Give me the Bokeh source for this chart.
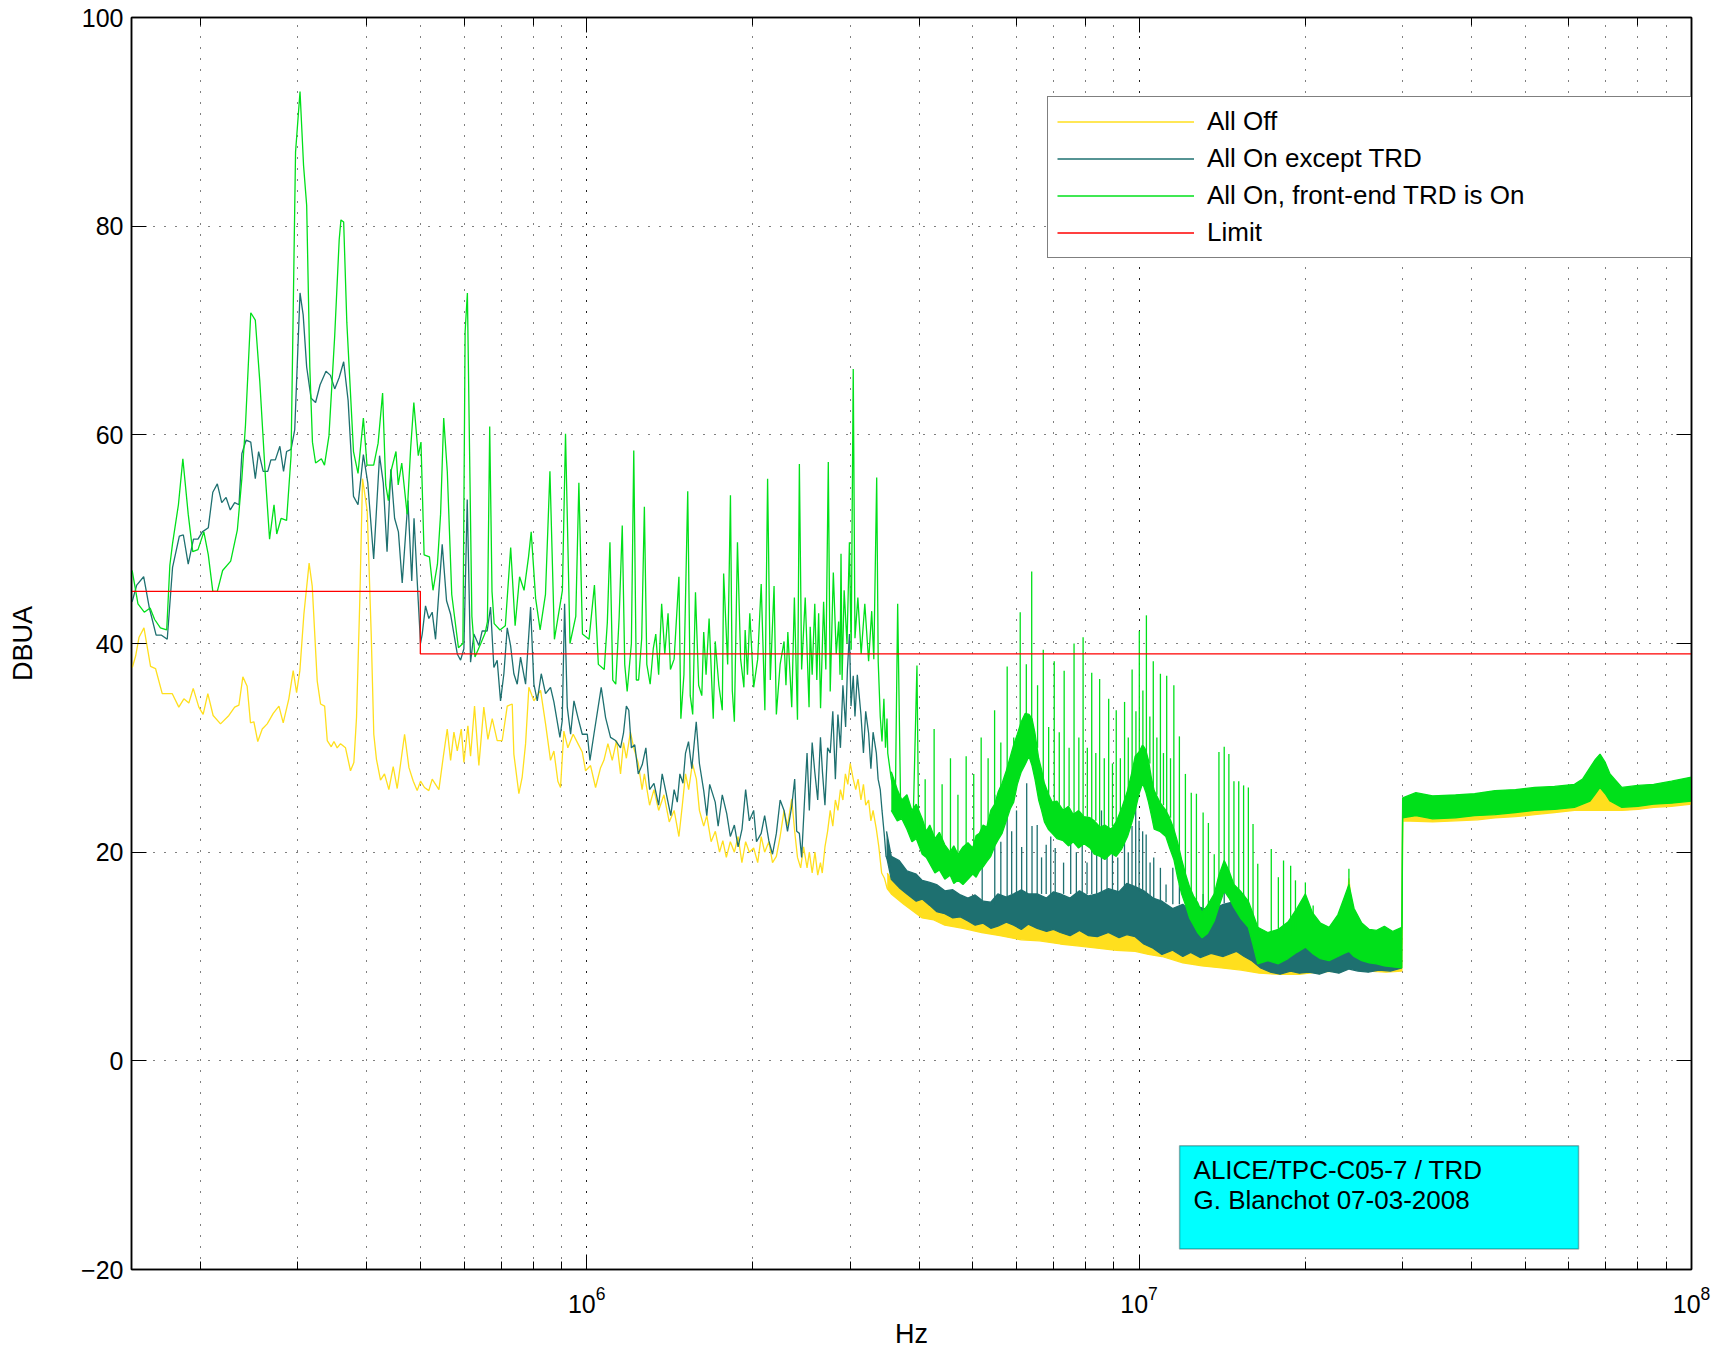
from bokeh.plotting import figure
from bokeh.models import (Range1d, FixedTicker, LogAxis, LinearAxis, LogTicker, Legend,
                          LegendItem, BoxAnnotation, Label)
from bokeh.embed import file_html
from bokeh.resources import INLINE

FONT = "Liberation Sans"

# ---------------- data (Hz, dBuA) ----------------
y_ticks = [-20, 0, 20, 40, 60, 80, 100]

limit_f = [1.5e5, 5e5, 5e5, 1e8]
limit_v = [45, 45, 39, 39]

# "All Off" trace
off_f = [150.5e3, 152.6e3, 154.8e3, 158.0e3, 162.4e3, 165.8e3, 170.5e3, 177.7e3, 182.7e3, 186.6e3,
         190.5e3, 194.0e3, 198.6e3, 202.2e3, 206.2e3, 210.8e3, 217.4e3, 225.1e3, 230.6e3, 234.7e3,
         238.6e3, 242.9e3, 246.3e3, 249.8e3, 253.9e3, 258.7e3, 264.1e3, 270.8e3, 277.3e3, 282.3e3,
         289.0e3, 294.3e3, 298.5e3, 302.6e3, 307.7e3, 314.5e3, 318.6e3, 325.3e3, 329.9e3, 335.5e3,
         339.2e3, 344.9e3, 348.8e3, 353.5e3, 358.5e3, 366.0e3, 373.7e3, 379.0e3, 383.2e3, 388.6e3,
         392.9e3, 400.7e3, 407.4e3, 411.8e3, 416.4e3, 423.5e3, 430.6e3, 438.5e3, 446.5e3, 454.0e3,
         468.2e3, 476.8e3, 485.5e3, 493.4e3, 500.4e3, 508.7e3, 518.0e3, 525.3e3, 532.7e3, 540.2e3,
         550.0e3, 559.3e3, 567.2e3, 575.1e3, 583.2e3, 593.0e3, 599.5e3, 609.6e3, 616.4e3, 626.7e3,
         638.1e3, 651.4e3, 662.6e3, 674.7e3, 688.7e3, 703.3e3, 718.2e3, 733.3e3, 738.3e3, 753.9e3,
         764.4e3, 775.3e3, 786.0e3, 802.6e3, 825.3e3, 842.6e3, 860.2e3, 872.4e3, 886.9e3, 896.8e3,
         909.4e3, 924.6e3, 945.4e3, 964.4e3, 981.9e3, 995.5e3, 1016.4e3, 1037.9e3, 1059.7e3, 1074.6e3,
         1092.7e3, 1112.6e3, 1132.8e3, 1151.7e3,
         1.166e6, 1.18e6, 1.20e6, 1.217e6, 1.24e6, 1.26e6, 1.272e6, 1.30e6, 1.324e6, 1.35e6,
         1.38e6, 1.411e6, 1.44e6, 1.469e6, 1.49e6, 1.51e6, 1.53e6, 1.554e6, 1.58e6, 1.60e6,
         1.629e6, 1.65e6, 1.68e6, 1.71e6, 1.74e6, 1.764e6, 1.79e6, 1.82e6, 1.851e6, 1.88e6,
         1.91e6, 1.94e6, 1.97e6, 2.006e6, 2.04e6, 2.07e6, 2.10e6, 2.137e6, 2.17e6, 2.205e6,
         2.24e6, 2.277e6, 2.31e6, 2.351e6, 2.38e6, 2.408e6, 2.44e6, 2.47e6, 2.506e6, 2.53e6,
         2.56e6, 2.59e6, 2.62e6, 2.65e6, 2.67e6, 2.70e6, 2.73e6, 2.76e6, 2.79e6, 2.82e6,
         2.85e6, 2.88e6, 2.91e6, 2.94e6, 2.97e6, 3.00e6, 3.038e6, 3.07e6, 3.10e6, 3.137e6,
         3.17e6, 3.20e6, 3.239e6, 3.27e6, 3.30e6, 3.345e6, 3.38e6, 3.42e6, 3.46e6, 3.50e6, 3.56e6]
off_v = [37.7, 38.8, 40.6, 41.5, 37.8, 37.6, 35.2, 35.2, 33.9, 34.7,
         34.3, 35.7, 33.9, 33.2, 35.2, 33.1, 32.3, 33.1, 33.9, 34.1,
         36.8, 35.9, 32.4, 32.5, 30.6, 31.8, 32.3, 33.3, 34.0, 32.4,
         34.7, 37.4, 35.3, 37.4, 42.8, 47.7, 45.5, 36.4, 34.2, 34.0,
         30.7, 30.1, 30.6, 30.0, 30.4, 30.0, 27.8, 28.6, 32.9, 44.4,
         55.8, 52.7, 40.9, 31.3, 28.9, 26.9, 27.5, 26.0, 28.2, 26.1,
         31.3, 28.1, 26.8, 25.9, 26.8, 26.2, 25.9, 27.0, 26.5, 26.0,
         29.1, 31.8, 28.8, 31.5, 29.7, 31.8, 28.6, 32.1, 29.2, 34.0,
         28.3, 33.9, 30.8, 32.8, 30.7, 30.7, 34.0, 34.2, 29.4, 25.6,
         27.2, 30.4, 35.8, 34.5, 35.5, 32.3, 28.8, 29.7, 26.8, 26.2,
         31.6, 30.0, 31.3, 30.4, 29.6, 27.8, 28.3, 26.2, 28.1, 28.8,
         30.4, 28.8, 30.7, 27.5,
         30.5, 29.0, 31.5, 30.0, 28.5, 26.0, 27.5, 24.5, 26.0, 24.0,
         25.5, 22.9, 24.0, 21.5, 24.5, 27.5, 26.0, 28.5, 27.0, 24.0,
         22.5, 23.5, 21.0, 22.0, 20.0, 21.1, 19.5, 21.0, 20.0, 21.5,
         19.0, 21.0, 20.0, 20.4, 19.0, 21.5, 20.0, 21.0, 19.0, 19.6,
         21.5, 24.0, 22.5, 25.1, 22.0, 19.5, 18.5, 20.5, 18.5, 20.0,
         18.0, 20.0, 17.8, 19.0, 18.0, 20.5, 22.0, 24.0, 22.5, 25.0,
         24.0, 26.0, 25.0, 27.5, 26.5, 28.5, 27.0, 26.0, 27.0, 25.0,
         26.5, 24.5, 25.0, 23.0, 24.0, 22.2, 20.5, 18.0, 17.5, 16.5, 16.7]

off_band_f = [3.50e6, 3.56e6, 3.75e6, 4.05e6, 4.25e6, 4.45e6, 4.80e6, 5.19e6, 5.60e6, 6.12e6,
              6.60e6, 7.20e6, 7.80e6, 8.40e6, 9.10e6, 9.84e6, 10.4e6, 11.0e6, 12.0e6, 13.0e6,
              14.1e6, 15.3e6, 16.5e6, 18.0e6, 19.5e6, 21.0e6, 23.0e6, 23.5e6, 23.98e6, 24.5e6,
              26.0e6, 28.0e6, 29.9e6, 30.0e6, 34.0e6, 37.4e6, 41.0e6, 44.1e6, 48.0e6, 52.0e6,
              56.5e6, 61.4e6, 65.5e6, 70.0e6, 74.8e6, 80.0e6, 85.4e6, 92.0e6, 100e6]
off_band_lo = [16.5, 16.0, 15.0, 13.7, 13.5, 13.0, 12.7, 12.3, 12.0, 11.6,
               11.5, 11.2, 11.0, 10.8, 10.6, 10.5, 10.2, 10.0, 9.4, 9.1,
               8.9, 8.7, 8.4, 8.3, 8.3, 8.5, 8.6, 9.0, 10.5, 9.0,
               8.6, 8.5, 8.6, 23.0, 22.9, 23.0, 23.1, 23.3, 23.4, 23.6,
               23.8, 24.0, 24.0, 24.0, 24.0, 24.1, 24.3, 24.4, 24.6]
off_band_hi = [18.0, 17.4, 16.8, 15.6, 15.1, 14.9, 14.6, 14.1, 14.3, 13.7,
               13.9, 13.4, 13.4, 13.0, 13.3, 13.0, 12.4, 12.0, 11.9, 11.4,
               11.5, 11.0, 10.6, 10.2, 10.8, 10.4, 10.9, 12.0, 17.5, 12.5,
               11.0, 11.4, 11.2, 24.3, 24.5, 24.6, 24.7, 24.9, 25.0, 25.2,
               25.4, 25.6, 26.0, 26.2, 25.6, 25.8, 25.9, 26.2, 26.5]

# "All On except TRD" trace
ex_f = [150.4e3, 153.3e3, 157.8e3, 161.6e3, 166.2e3, 170.0e3, 174.1e3, 178.0e3, 183.1e3, 186.2e3,
        190.0e3, 194.2e3, 197.9e3, 201.5e3, 206.6e3, 210.5e3, 214.5e3, 218.5e3, 222.5e3, 226.4e3,
        230.6e3, 234.8e3, 237.6e3, 241.9e3, 246.6e3, 251.3e3, 254.8e3, 259.7e3, 264.7e3, 268.2e3,
        273.2e3, 278.4e3, 282.7e3, 286.3e3, 291.7e3, 296.2e3, 302.8e3, 306.8e3, 311.3e3, 317.1e3,
        323.1e3, 329.2e3, 337.4e3, 343.8e3, 349.9e3, 356.5e3, 363.2e3, 370.0e3, 378.4e3, 385.6e3,
        394.3e3, 401.6e3, 411.6e3, 421.8e3, 428.4e3, 435.2e3, 442.1e3, 449.1e3, 456.3e3, 463.6e3,
        474.8e3, 482.4e3, 487.0e3, 495.6e3, 500.4e3, 503.9e3, 510.9e3, 518.0e3, 525.3e3, 532.7e3,
        547.7e3, 557.7e3, 567.2e3, 583.2e3, 591.3e3, 599.5e3, 607.9e3, 616.4e3, 625.0e3, 638.1e3,
        647.0e3, 660.6e3, 669.9e3, 679.3e3, 688.7e3, 698.4e3, 708.2e3, 718.2e3, 728.3e3, 738.3e3,
        748.7e3, 759.2e3, 775.3e3, 791.6e3, 802.6e3, 814.0e3, 827.6e3, 842.6e3, 860.2e3, 872.4e3,
        894.6e3, 903.2e3, 912.2e3, 922.4e3, 935.3e3, 948.5e3, 964.4e3, 981.9e3, 1002.7e3, 1013.9e3,
        1030.8e3, 1062.6e3, 1082.1e3, 1104.7e3, 1128.1e3, 1151.7e3,
        1.166e6, 1.18e6, 1.192e6, 1.205e6, 1.222e6, 1.24e6, 1.261e6, 1.28e6, 1.30e6, 1.324e6,
        1.35e6, 1.37e6, 1.39e6, 1.42e6, 1.44e6, 1.459e6, 1.475e6, 1.494e6, 1.51e6, 1.529e6,
        1.55e6, 1.579e6, 1.60e6, 1.629e6, 1.65e6, 1.67e6, 1.709e6, 1.73e6, 1.76e6, 1.793e6,
        1.82e6, 1.851e6, 1.88e6, 1.911e6, 1.94e6, 1.97e6, 2.006e6, 2.03e6, 2.07e6, 2.10e6,
        2.137e6, 2.17e6, 2.205e6, 2.24e6, 2.277e6, 2.31e6, 2.351e6, 2.38e6, 2.40e6, 2.427e6,
        2.45e6, 2.48e6, 2.506e6, 2.53e6, 2.56e6, 2.588e6, 2.62e6, 2.65e6, 2.672e6, 2.70e6,
        2.73e6, 2.76e6, 2.79e6, 2.82e6, 2.85e6, 2.88e6, 2.91e6, 2.943e6, 2.965e6, 2.99e6,
        3.01e6, 3.038e6, 3.06e6, 3.09e6, 3.137e6, 3.17e6, 3.20e6, 3.239e6, 3.27e6, 3.30e6,
        3.345e6, 3.37e6, 3.40e6, 3.425e6, 3.46e6, 3.483e6, 3.53e6, 3.564e6]
ex_v = [44.0, 45.6, 46.4, 43.4, 40.8, 40.8, 40.4, 47.3, 50.3, 50.4,
        47.6, 50.0, 50.0, 50.7, 51.1, 54.5, 55.3, 53.5, 54.0, 52.8,
        53.5, 53.3, 58.2, 59.5, 59.3, 55.8, 58.4, 56.5, 56.5, 57.6,
        57.6, 58.9, 56.5, 58.4, 58.6, 60.5, 73.6, 71.5, 66.5, 63.5,
        63.1, 64.8, 66.1, 65.7, 64.4, 65.5, 67.0, 63.3, 54.1, 53.3,
        58.1, 55.4, 48.1, 58.0, 55.4, 48.8, 56.7, 52.0, 50.7, 45.8,
        53.7, 46.0, 52.0, 44.1, 40.0, 40.9, 43.6, 42.4, 43.0, 40.4,
        49.5, 44.1, 42.8, 39.0, 38.4, 39.5, 53.8, 38.2, 40.9, 39.8,
        41.2, 41.2, 43.5, 37.7, 38.4, 34.5, 37.1, 41.5, 39.8, 37.1,
        36.1, 38.7, 36.1, 43.5, 36.1, 34.5, 37.1, 35.2, 35.8, 34.4,
        31.0, 32.6, 43.8, 33.9, 31.3, 34.5, 32.9, 31.3, 31.3, 28.8,
        31.3, 35.8, 32.9, 31.0, 30.7, 30.0,
        31.4, 34.0, 33.6, 30.0, 30.3, 27.5, 28.4, 30.0, 26.0, 26.6,
        24.5, 27.5, 25.9, 23.5, 26.0, 24.8, 27.5, 26.6, 29.5, 30.6,
        28.0, 32.5, 28.5, 25.9, 23.5, 26.5, 24.8, 22.5, 25.5, 23.7,
        21.5, 22.6, 20.5, 22.2, 26.0, 23.0, 24.0, 21.0, 21.8, 23.5,
        21.1, 19.8, 21.8, 25.0, 24.0, 22.0, 24.4, 27.0, 22.0, 21.8,
        19.5, 25.0, 29.5, 24.0, 30.5, 27.7, 25.0, 31.0, 27.7, 24.5,
        30.0, 29.5, 33.5, 27.0, 33.2, 30.0, 36.0, 32.0, 37.5, 40.9,
        34.0, 36.9, 33.0, 37.0, 33.2, 29.5, 33.5, 31.4, 28.0, 31.5,
        29.5, 27.0, 26.0, 24.0, 21.5, 19.6, 19.0, 18.5]

ex_band_f = [3.49e6, 3.56e6, 3.68e6, 3.80e6, 3.95e6, 4.05e6, 4.18e6, 4.30e6, 4.45e6, 4.60e6,
             4.75e6, 4.90e6, 5.05e6, 5.22e6, 5.39e6, 5.55e6, 5.75e6, 5.93e6, 6.12e6, 6.30e6,
             6.54e6, 6.80e6, 7.00e6, 7.20e6, 7.50e6, 7.80e6, 8.10e6, 8.40e6, 8.80e6, 9.20e6,
             9.50e6, 9.84e6, 10.2e6, 10.6e6, 11.0e6, 11.5e6, 12.0e6, 12.4e6, 12.9e6, 13.5e6,
             14.2e6, 15.0e6, 15.5e6, 16.0e6, 16.6e6, 17.3e6, 18.0e6, 18.8e6, 19.5e6, 20.3e6,
             21.2e6, 22.0e6, 23.0e6, 24.0e6, 24.9e6, 26.0e6, 27.2e6, 28.5e6, 29.9e6]
ex_band_lo = [19.6, 17.4, 16.6, 16.0, 15.3, 15.5, 14.9, 14.3, 14.1, 13.7,
              13.8, 13.4, 13.0, 13.2, 12.7, 12.9, 13.3, 13.0, 12.6, 13.1,
              12.7, 12.4, 12.6, 12.3, 12.0, 12.5, 12.0, 11.9, 12.3, 11.8,
              12.1, 11.9, 11.2, 10.8, 10.2, 10.6, 10.0, 10.4, 9.9, 10.3,
              10.0, 10.5, 10.0, 9.6, 8.9, 8.5, 8.3, 8.6, 8.4, 8.5,
              8.3, 8.6, 8.4, 8.8, 8.6, 8.5, 8.7, 8.6, 8.9]
ex_band_hi = [22.0, 19.6, 19.2, 18.2, 17.9, 17.3, 17.1, 16.9, 16.3, 16.4,
              15.9, 15.6, 15.9, 15.3, 15.2, 16.0, 15.7, 16.0, 16.4, 16.0,
              16.0, 15.6, 16.2, 16.0, 15.6, 16.3, 15.8, 16.0, 16.5, 16.2,
              17.0, 16.7, 16.3, 15.6, 15.3, 14.6, 15.0, 14.3, 14.7, 14.4,
              15.0, 15.3, 14.4, 13.4, 11.6, 11.4, 10.9, 11.6, 11.2, 11.9,
              11.5, 11.0, 11.6, 12.8, 11.5, 11.2, 11.7, 11.3, 11.5]

ex_spk_f = [5.20e6, 5.48e6, 5.62e6, 5.77e6, 5.88e6, 6.00e6, 6.13e6, 6.26e6, 6.40e6, 6.54e6,
            6.66e6, 6.79e6, 6.92e6, 7.05e6, 7.30e6, 7.52e6, 7.70e6, 7.89e6, 8.05e6, 8.21e6,
            8.38e6, 8.55e6, 8.75e6, 8.95e6, 9.15e6, 9.41e6, 9.56e6, 9.71e6, 9.86e6, 10.0e6,
            10.15e6, 10.3e6, 10.47e6, 10.63e6, 10.93e6, 11.19e6, 11.51e6, 11.83e6, 12.43e6, 13.06e6,
            13.68e6, 14.26e6, 14.85e6, 15.46e6, 16.08e6]
ex_spk_top = [19.0, 25.5, 21.0, 24.0, 22.0, 24.0, 20.5, 26.6, 22.5, 22.6,
              19.5, 20.7, 21.5, 20.4, 19.0, 22.0, 20.0, 23.0, 19.0, 21.0,
              21.5, 24.0, 20.5, 22.0, 19.5, 23.0, 20.0, 22.5, 24.5, 23.0,
              22.0, 21.7, 19.0, 19.5, 18.5, 16.9, 18.5, 17.0, 15.5, 16.0,
              15.5, 16.5, 16.0, 16.0, 14.0]
ex_spk_base = [15.0, 15.0, 15.5, 15.5, 16.0, 15.8, 16.0, 16.0, 16.0, 16.0,
               16.0, 16.0, 16.0, 16.0, 16.0, 16.0, 16.0, 16.0, 16.0, 16.0,
               16.0, 16.0, 16.0, 16.0, 16.0, 16.3, 16.5, 16.5, 16.5, 16.2,
               16.0, 15.8, 15.8, 15.5, 15.3, 15.2, 15.0, 15.0, 14.8, 14.7,
               14.9, 15.1, 15.3, 14.5, 13.5]

# "All On, front-end TRD is On" trace
on_f = [150.4e3, 154.1e3, 158.2e3, 162.1e3, 165.2e3, 169.2e3, 173.7e3, 176.0e3, 178.0e3, 182.4e3,
        185.8e3, 190.0e3, 193.6e3, 197.9e3, 202.8e3, 206.6e3, 210.5e3, 214.5e3, 219.3e3, 226.8e3,
        233.2e3, 237.6e3, 241.2e3, 246.6e3, 251.3e3, 256.0e3, 261.8e3, 266.7e3, 271.7e3, 274.8e3,
        279.9e3, 286.3e3, 291.7e3, 297.2e3, 302.8e3, 307.3e3, 311.3e3, 315.4e3, 318.9e3, 323.1e3,
        331.0e3, 335.3e3, 341.6e3, 349.9e3, 356.5e3, 359.1e3, 363.2e3, 368.0e3, 378.4e3, 385.6e3,
        394.3e3, 400.3e3, 411.6e3, 419.3e3, 427.2e3, 432.8e3, 437.6e3, 443.3e3, 451.7e3, 455.9e3,
        462.7e3, 473.2e3, 480.3e3, 486.6e3, 495.7e3, 501.3e3, 507.9e3, 519.3e3, 527.1e3, 536.9e3,
        544.0e3, 551.1e3, 559.4e3, 569.9e3, 586.0e3, 597.1e3, 602.6e3, 608.3e3, 614.0e3, 619.8e3,
        627.8e3, 643.2e3, 655.0e3, 661.3e3, 667.6e3, 674.0e3, 680.2e3, 696.8e3, 712.5e3, 728.6e3,
        742.2e3, 756.1e3, 770.4e3, 784.9e3, 793.6e3, 808.5e3, 823.7e3, 842.3e3, 858.1e3, 874.3e3,
        903.9e3, 915.7e3, 932.9e3, 955.7e3, 968.1e3, 982.7e3, 1010e3, 1033e3,
        1.05e6, 1.076e6, 1.09e6, 1.102e6, 1.115e6, 1.129e6, 1.145e6, 1.160e6, 1.172e6, 1.184e6,
        1.205e6, 1.217e6, 1.23e6, 1.242e6, 1.258e6, 1.272e6, 1.285e6, 1.303e6, 1.32e6, 1.334e6,
        1.35e6, 1.367e6, 1.385e6, 1.404e6, 1.418e6, 1.44e6, 1.469e6, 1.481e6, 1.50e6, 1.524e6,
        1.54e6, 1.556e6, 1.574e6, 1.595e6, 1.616e6, 1.629e6, 1.645e6, 1.666e6, 1.695e6, 1.709e6,
        1.735e6, 1.760e6, 1.770e6, 1.80e6, 1.821e6, 1.835e6, 1.851e6, 1.875e6, 1.90e6, 1.926e6,
        1.936e6, 1.955e6, 1.974e6, 2.006e6, 2.04e6, 2.070e6, 2.102e6, 2.126e6, 2.15e6, 2.184e6,
        2.205e6, 2.24e6, 2.277e6, 2.295e6, 2.313e6, 2.351e6, 2.377e6, 2.408e6, 2.427e6, 2.45e6,
        2.487e6, 2.527e6, 2.539e6, 2.56e6, 2.588e6, 2.61e6, 2.630e6, 2.651e6, 2.685e6, 2.71e6,
        2.738e6, 2.760e6, 2.796e6, 2.83e6, 2.859e6, 2.875e6, 2.887e6, 2.9e6, 2.925e6, 2.96e6,
        2.990e6, 3.012e6, 3.038e6, 3.06e6, 3.097e6, 3.14e6, 3.188e6, 3.239e6, 3.281e6, 3.31e6,
        3.350e6, 3.371e6, 3.40e6, 3.425e6, 3.452e6, 3.475e6, 3.497e6, 3.508e6, 3.56e6, 3.621e6,
        3.656e6, 3.70e6, 3.80e6, 3.90e6, 3.962e6, 3.99e6]
on_v = [47.0, 43.8, 43.0, 43.4, 42.3, 41.5, 41.3, 47.5, 49.6, 53.3,
        57.7, 52.4, 48.8, 49.0, 50.7, 48.5, 45.0, 45.0, 47.0, 47.9,
        50.9, 55.8, 60.9, 71.7, 71.0, 65.2, 56.4, 50.0, 53.3, 50.5,
        52.0, 51.8, 58.0, 87.1, 92.9, 85.8, 82.0, 66.5, 59.3, 57.3,
        57.7, 57.1, 59.9, 69.5, 78.7, 80.6, 80.4, 70.8, 58.4, 56.3,
        61.6, 57.1, 57.1, 59.2, 64.0, 55.2, 53.7, 56.7, 58.4, 55.2,
        57.3, 52.4, 58.8, 63.1, 58.0, 59.3, 48.5, 48.3, 45.1, 47.6,
        52.4, 61.6, 56.5, 44.7, 39.6, 40.0, 69.9, 73.6, 58.0, 42.6,
        38.7, 40.0, 41.0, 42.1, 60.8, 45.0, 41.9, 41.3, 41.7, 49.2,
        41.7, 46.4, 45.1, 48.3, 50.7, 44.3, 41.3, 44.7, 56.5, 40.4,
        45.1, 60.1, 40.0, 42.6, 55.4, 40.9, 40.4, 45.6,
        38.0, 37.5, 42.0, 49.7, 36.5, 36.1, 42.5, 51.3, 38.0, 35.4,
        40.0, 58.5, 36.5, 36.5, 40.5, 53.1, 38.0, 36.1, 39.5, 40.9,
        37.0, 43.8, 39.0, 42.9, 37.5, 38.5, 46.4, 32.8, 37.0, 54.6,
        35.0, 33.2, 44.9, 36.0, 35.0, 41.1, 37.0, 42.4, 32.8, 40.2,
        36.0, 33.6, 46.7, 38.0, 54.2, 35.5, 32.5, 49.7, 38.5, 35.8,
        41.3, 37.0, 42.9, 35.8, 38.5, 45.7, 33.6, 55.8, 36.5, 45.5,
        33.2, 38.0, 40.2, 36.0, 41.1, 33.9, 44.4, 32.7, 57.2, 37.5,
        44.4, 33.9, 41.6, 37.0, 43.8, 36.5, 42.9, 33.8, 44.0, 37.5,
        57.4, 35.4, 46.8, 39.0, 42.1, 37.0, 48.6, 36.5, 45.1, 40.0,
        49.7, 39.4, 66.3, 40.5, 44.4, 39.0, 43.8, 38.3, 43.1, 38.5,
        55.9, 38.3, 33.0, 30.6, 34.7, 30.0, 32.8, 29.5, 27.0, 25.1,
        43.8, 25.0, 23.7, 23.0, 37.9, 22.2]

on_band_f = [3.56e6, 3.65e6, 3.72e6, 3.80e6, 3.88e6, 3.95e6, 4.05e6, 4.12e6, 4.18e6, 4.27e6,
             4.35e6, 4.45e6, 4.55e6, 4.62e6, 4.70e6, 4.80e6, 4.90e6, 5.00e6, 5.07e6, 5.14e6,
             5.22e6, 5.30e6, 5.39e6, 5.48e6, 5.56e6, 5.65e6, 5.75e6, 5.85e6, 5.93e6, 6.02e6,
             6.12e6, 6.22e6, 6.32e6, 6.40e6, 6.48e6, 6.58e6, 6.66e6, 6.74e6, 6.85e6, 6.96e6,
             7.10e6, 7.29e6, 7.45e6, 7.60e6, 7.77e6, 7.95e6, 8.15e6, 8.30e6, 8.50e6, 8.67e6,
             8.90e6, 9.09e6, 9.30e6, 9.53e6, 9.70e6, 9.84e6, 10.0e6, 10.15e6, 10.28e6, 10.40e6,
             10.52e6, 10.65e6, 10.90e6, 11.18e6, 11.36e6, 11.56e6, 11.75e6, 11.94e6, 12.14e6, 12.34e6,
             12.55e6, 12.76e6, 13.0e6, 13.3e6, 13.68e6, 13.95e6, 14.26e6, 14.55e6, 14.85e6, 15.3e6,
             15.77e6, 16.1e6, 16.40e6, 17.1e6, 17.87e6, 18.6e6, 19.3e6, 20.0e6, 20.6e6, 21.3e6,
             22.08e6, 22.9e6, 23.5e6, 23.98e6, 24.5e6, 25.3e6, 26.1e6, 26.91e6, 27.8e6, 28.8e6,
             29.9e6, 30.0e6, 31.7e6, 34.0e6, 37.4e6, 40.5e6, 44.1e6, 48.0e6, 52.0e6, 56.5e6,
             61.4e6, 63.5e6, 65.5e6, 67.0e6, 68.3e6, 69.8e6, 71.2e6, 74.8e6, 80.0e6, 85.4e6,
             92.0e6, 100e6]
on_band_lo = [24.0, 23.0, 23.2, 22.2, 21.0, 21.3, 19.8, 19.5, 18.9, 18.0,
              18.3, 17.4, 17.8, 17.0, 17.3, 16.9, 17.4, 17.9, 17.6, 18.2,
              18.6, 19.1, 19.6, 20.6, 21.2, 21.8, 23.0, 24.2, 24.8, 26.5,
              27.7, 28.4, 29.2, 28.3, 27.0, 25.0, 24.0, 22.9, 22.2, 21.8,
              21.3, 21.1, 20.6, 21.0, 20.4, 20.8, 20.4, 19.8, 19.6, 19.3,
              19.9, 19.6, 20.3, 21.5, 22.8, 24.0, 25.6, 26.6, 25.8, 24.8,
              23.6, 22.2, 22.0, 21.5, 20.4, 19.3, 17.5, 16.0, 14.9, 13.7,
              13.0, 12.3, 11.8, 12.2, 13.4, 14.8, 16.3, 15.6, 14.7, 13.6,
              12.8, 11.0, 9.3, 9.6, 9.3, 9.8, 10.4, 10.9, 10.3, 9.8,
              9.6, 10.0, 10.3, 10.5, 10.0, 9.6, 9.4, 9.3, 9.1, 9.0,
              8.9, 23.3, 23.5, 23.2, 23.3, 23.5, 23.6, 23.8, 24.0, 24.1,
              24.3, 24.6, 24.9, 25.6, 26.2, 25.6, 24.9, 24.3, 24.4, 24.6,
              24.7, 24.9]
on_band_hi = [27.7, 26.0, 25.0, 25.5, 24.0, 24.6, 23.2, 22.0, 22.6, 21.3,
              21.9, 20.7, 20.0, 20.6, 19.8, 20.5, 20.9, 20.4, 21.6, 21.8,
              22.6, 22.4, 24.0, 24.6, 25.8, 26.6, 27.8, 29.2, 30.3, 31.3,
              32.5, 33.3, 33.2, 32.8, 31.4, 29.0, 27.9, 26.6, 25.6, 24.8,
              24.9, 24.0, 24.4, 23.6, 24.0, 23.4, 23.3, 23.0, 22.4, 22.6,
              22.2, 22.9, 24.2, 25.9, 27.6, 29.2, 29.6, 30.3, 29.8, 28.8,
              27.2, 25.9, 24.8, 24.0, 23.3, 22.2, 20.9, 19.3, 17.9, 16.7,
              15.8, 15.2, 14.2, 14.9, 16.0, 17.8, 19.2, 18.2, 16.9, 16.2,
              15.3, 14.0, 12.8, 12.3, 12.6, 13.3, 14.6, 16.0, 14.2, 13.2,
              12.8, 14.0, 15.6, 16.9, 14.6, 13.2, 12.6, 12.5, 12.9, 12.4,
              12.8, 25.2, 25.7, 25.4, 25.5, 25.6, 25.9, 26.0, 26.2, 26.3,
              26.5, 27.0, 28.1, 28.9, 29.4, 28.6, 27.5, 26.2, 26.4, 26.5,
              26.8, 27.2]

on_spk_f = [4.10e6, 4.256e6, 4.40e6, 4.556e6, 4.70e6, 4.864e6, 5.02e6, 5.178e6, 5.33e6, 5.476e6,
            5.62e6, 5.771e6, 5.930e6, 6.093e6, 6.25e6, 6.392e6, 6.55e6, 6.708e6, 6.86e6, 7.022e6,
            7.17e6, 7.318e6, 7.47e6, 7.626e6, 7.78e6, 7.919e6, 8.06e6, 8.209e6, 8.35e6, 8.484e6,
            8.65e6, 8.810e6, 8.95e6, 9.092e6, 9.25e6, 9.413e6, 9.56e6, 9.714e6, 9.87e6, 10.01e6,
            10.16e6, 10.31e6, 10.46e6, 10.61e6, 10.77e6, 10.93e6, 11.07e6, 11.22e6, 11.40e6, 11.56e6,
            11.83e6, 12.13e6, 12.43e6, 12.70e6, 13.06e6, 13.35e6, 13.68e6, 13.95e6, 14.26e6, 14.54e6,
            14.85e6, 15.15e6, 15.46e6, 15.77e6, 16.08e6, 16.40e6, 17.35e6, 17.87e6, 18.26e6, 18.81e6,
            19.19e6, 20.0e6, 20.66e6, 23.98e6]
on_spk_top = [27.0, 31.8, 26.5, 29.0, 25.5, 29.2, 27.5, 31.0, 29.0, 33.6,
              30.5, 37.8, 31.0, 43.0, 38.0, 46.9, 36.0, 39.4, 32.0, 38.3,
              31.5, 37.4, 30.0, 40.0, 31.0, 40.6, 30.0, 37.2, 29.5, 36.6,
              29.0, 34.7, 28.5, 33.6, 29.0, 34.4, 31.0, 37.5, 33.5, 41.2,
              35.5, 42.7, 33.0, 38.3, 31.0, 37.1, 29.5, 36.9, 29.0, 36.0,
              31.1, 27.5, 25.7, 25.6, 23.8, 22.8, 19.8, 29.6, 30.1, 29.4,
              26.8, 26.8, 26.4, 26.2, 22.7, 18.9, 20.3, 17.6, 19.2, 18.7,
              17.3, 17.1, 14.9, 18.4]
on_spk_base = [22.0, 21.0, 20.5, 20.0, 20.0, 20.3, 20.5, 21.5, 22.5, 23.5,
               26.0, 26.5, 29.0, 31.5, 33.0, 32.5, 30.0, 26.0, 25.5, 24.5,
               24.5, 23.8, 24.4, 23.5, 24.0, 23.5, 23.4, 23.0, 23.0, 22.5,
               22.6, 22.3, 22.5, 22.5, 23.5, 24.0, 26.0, 27.0, 29.0, 29.5,
               30.3, 29.0, 28.5, 26.0, 25.5, 24.5, 24.5, 23.5, 23.3, 22.0,
               19.0, 17.0, 15.5, 14.5, 13.5, 14.0, 15.0, 16.5, 18.5, 18.0,
               16.5, 16.0, 15.0, 14.8, 13.0, 12.0, 12.0, 11.8, 12.0, 12.0,
               12.5, 15.0, 12.5, 16.0]

series_names = ["All Off", "All On except TRD", "All On, front-end TRD is On", "Limit"]
note_lines = ["ALICE/TPC-C05-7 / TRD", "G. Blanchot 07-03-2008"]

# ---------------- styling ----------------
C_OFF = "#FFDF1E"
C_EX = "#1E7070"
C_ON = "#00E01A"
C_LIM = "#FF0000"
LW = 1.3

p = figure(width=1716, height=1352, x_axis_type="log",
           x_range=Range1d(1.5e5, 1e8), y_range=Range1d(-20, 100),
           output_backend="svg", toolbar_location=None,
           min_border_left=131, min_border_right=25, min_border_top=17, min_border_bottom=83,
           x_axis_label="Hz", y_axis_label="DBUA")
p.background_fill_color = "white"
p.border_fill_color = "white"
p.outline_line_color = "black"
p.outline_line_width = 1.5

yt = FixedTicker(ticks=y_ticks)
p.yaxis.ticker = yt
p.ygrid.ticker = yt

for g in (p.xgrid[0], p.ygrid[0]):
    g.grid_line_color = "#000000"
    g.grid_line_dash = "1 10"
    g.grid_line_alpha = 1.0
    g.grid_line_width = 1
p.xgrid.minor_grid_line_color = "#000000"
p.xgrid.minor_grid_line_dash = "1 10"
p.xgrid.minor_grid_line_alpha = 1.0

for ax in (p.xaxis[0], p.yaxis[0]):
    ax.major_tick_in = 15
    ax.major_tick_out = 0
    ax.minor_tick_in = 8
    ax.minor_tick_out = 0
    ax.major_tick_line_color = "black"
    ax.minor_tick_line_color = "black"
    ax.axis_line_color = "black"
    ax.axis_line_width = 1.5
    ax.major_label_text_font = FONT
    ax.major_label_text_font_size = "25px"
    ax.major_label_text_color = "black"
    ax.axis_label_text_font = FONT
    ax.axis_label_text_font_size = "27px"
    ax.axis_label_text_font_style = "normal"
    ax.axis_label_text_color = "black"
p.yaxis.minor_tick_line_color = None
p.yaxis.major_label_standoff = 8
p.yaxis.axis_label_standoff = 40
p.xaxis.major_label_standoff = 16
p.xaxis.axis_label_standoff = 3

top_ax = LogAxis(ticker=LogTicker(), major_label_text_font_size="1px", major_label_text_alpha=0,
                 major_label_standoff=0,
                 major_tick_in=15, major_tick_out=0, minor_tick_in=8, minor_tick_out=0,
                 axis_line_color="black", axis_line_width=1.5)
p.add_layout(top_ax, "above")
right_ax = LinearAxis(ticker=FixedTicker(ticks=y_ticks), major_label_text_font_size="1px",
                      major_label_text_alpha=0,
                      major_label_standoff=0, major_tick_in=15, major_tick_out=0,
                      minor_tick_line_color=None, axis_line_color="black", axis_line_width=1.5)
p.add_layout(right_ax, "right")

# All Off
p.varea(x=off_band_f, y1=off_band_lo, y2=off_band_hi, fill_color=C_OFF)
p.line(off_band_f, off_band_lo, line_color=C_OFF, line_width=LW)
p.line(off_band_f, off_band_hi, line_color=C_OFF, line_width=LW)
r_off = p.line(off_f, off_v, line_color=C_OFF, line_width=LW)

# All On except TRD
p.varea(x=ex_band_f, y1=ex_band_lo, y2=ex_band_hi, fill_color=C_EX)
p.line(ex_band_f, ex_band_lo, line_color=C_EX, line_width=LW)
p.line(ex_band_f, ex_band_hi, line_color=C_EX, line_width=LW)
p.segment(x0=ex_spk_f, y0=ex_spk_base, x1=ex_spk_f, y1=ex_spk_top, line_color=C_EX, line_width=LW)
r_ex = p.line(ex_f, ex_v, line_color=C_EX, line_width=LW)

# All On, front-end TRD is On
p.varea(x=on_band_f, y1=on_band_lo, y2=on_band_hi, fill_color=C_ON)
p.line(on_band_f, on_band_lo, line_color=C_ON, line_width=LW)
p.line(on_band_f, on_band_hi, line_color=C_ON, line_width=LW)
p.segment(x0=on_spk_f, y0=on_spk_base, x1=on_spk_f, y1=on_spk_top, line_color=C_ON, line_width=LW)
r_on = p.line(on_f, on_v, line_color=C_ON, line_width=LW)

# Limit
r_lim = p.line(limit_f, limit_v, line_color=C_LIM, line_width=LW)

legend = Legend(items=[LegendItem(label=series_names[0], renderers=[r_off]),
                       LegendItem(label=series_names[1], renderers=[r_ex]),
                       LegendItem(label=series_names[2], renderers=[r_on]),
                       LegendItem(label=series_names[3], renderers=[r_lim])],
                location=(916, 1011))
legend.label_text_font = FONT
legend.label_text_font_size = "26px"
legend.label_text_color = "black"
legend.glyph_width = 137
legend.glyph_height = 27
legend.label_height = 27
legend.label_width = 480
legend.label_standoff = 13
legend.spacing = 6
legend.padding = 9
legend.margin = 0
legend.border_line_color = "black"
legend.border_line_width = 1.5
legend.background_fill_color = "white"
legend.background_fill_alpha = 1.0
p.add_layout(legend, "center")

box = BoxAnnotation(left=1.184e7, right=6.245e7, bottom=-18.03, top=-8.15,
                    fill_color="#00FFFF", fill_alpha=1.0, line_color="black", line_width=1.5)
p.add_layout(box)
for txt, yv in zip(note_lines, (-10.45, -13.33)):
    p.add_layout(Label(x=1.255e7, y=yv, text=txt, text_font=FONT, text_font_size="26px",
                       text_baseline="middle", text_align="left", text_color="black"))

open("out.html", "w").write(file_html(p, INLINE))
